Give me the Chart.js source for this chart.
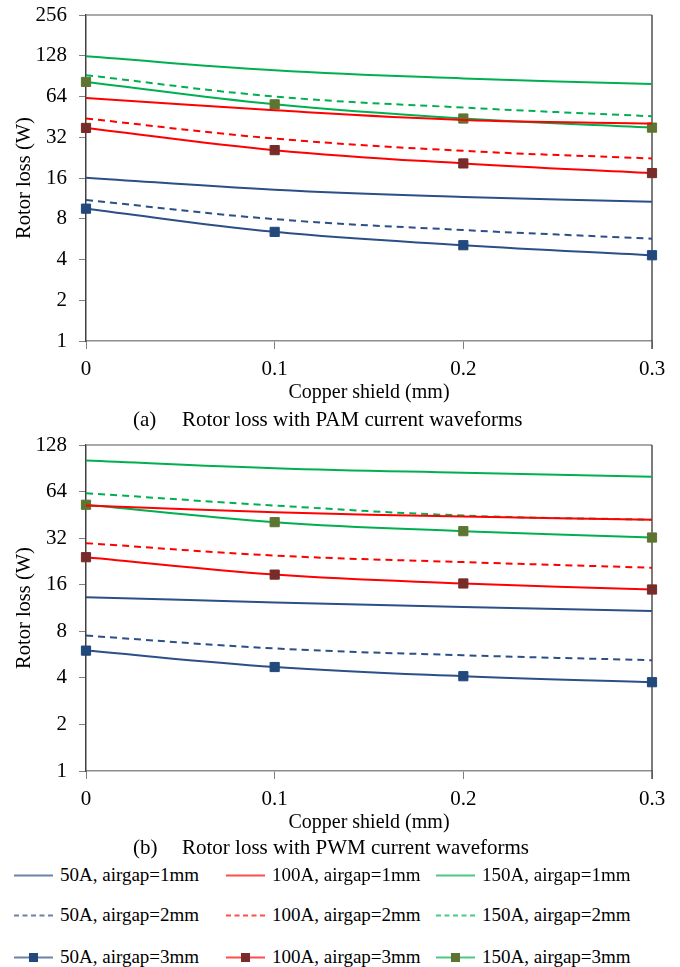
<!DOCTYPE html>
<html>
<head>
<meta charset="utf-8">
<script src="https://cdn.jsdelivr.net/npm/chart.js@4.4.0/dist/chart.umd.min.js"></script>
<style>
  body { margin: 0; background: #fff; width: 680px; height: 967px; position: relative; overflow: hidden;
         font-family: "Liberation Serif", "Times New Roman", serif; color: #000; }
  .box { position: absolute; left: 0; width: 680px; height: 410px; }
  .cap { position: absolute; font-size: 21px; line-height: 21px; white-space: nowrap; }
  .item { position: absolute; height: 24px; display: flex; align-items: center; font-size: 19px; white-space: nowrap; }
  .item svg { margin-right: 7px; }
</style>
</head>
<body>
<div class="box" style="top:0"><canvas id="pam" width="680" height="410"></canvas></div>
<div class="cap" style="left:133px; top:409px">(a)</div>
<div class="cap" style="left:182px; top:409px">Rotor loss with PAM current waveforms</div>
<div class="box" style="top:430px"><canvas id="pwm" width="680" height="410"></canvas></div>
<div class="cap" style="left:133px; top:837px">(b)</div>
<div class="cap" style="left:182px; top:837px">Rotor loss with PWM current waveforms</div>
<div id="legend"></div>

<script>
const FONT = "'Liberation Serif', 'Times New Roman', serif";

// copper shield thickness (mm)
const shield = [0, 0.1, 0.2, 0.3];
const xTicks = [0, 0.1, 0.2, 0.3];
const pamTicks = [1, 2, 4, 8, 16, 32, 64, 128, 256];
const pwmTicks = [1, 2, 4, 8, 16, 32, 64, 128];

const currents = ["50A", "100A", "150A"];
const airgaps = ["1mm", "2mm", "3mm"];

// (a) PAM rotor loss, W
const pam50_1 = [16.1, 13.1, 11.6, 10.7];
const pam50_2 = [11.0, 7.95, 6.6, 5.7];
const pam50_3 = [9.5, 6.4, 5.1, 4.3];
const pam100_1 = [62.4, 50.6, 43.0, 40.4];
const pam100_2 = [44.0, 31.3, 25.4, 22.3];
const pam100_3 = [37.5, 25.7, 20.5, 17.4];
const pam150_1 = [127, 100, 87, 79];
const pam150_2 = [92, 64, 53, 45.7];
const pam150_3 = [82, 56, 44, 37.7];

// (b) PWM rotor loss, W
const pwm50_1 = [13.3, 12.3, 11.5, 10.8];
const pwm50_2 = [7.5, 6.2, 5.6, 5.2];
const pwm50_3 = [6.0, 4.7, 4.1, 3.75];
const pwm100_1 = [52, 47, 44.2, 42.1];
const pwm100_2 = [29.7, 24.7, 22.4, 20.6];
const pwm100_3 = [24.1, 18.6, 16.3, 14.9];
const pwm150_1 = [101.6, 90.6, 84.6, 79.8];
const pwm150_2 = [62.5, 52, 44.8, 42.1];
const pwm150_3 = [52.6, 40.6, 35.5, 32.3];

const pamData = [[pam50_1, pam50_2, pam50_3], [pam100_1, pam100_2, pam100_3], [pam150_1, pam150_2, pam150_3]];
const pwmData = [[pwm50_1, pwm50_2, pwm50_3], [pwm100_1, pwm100_2, pwm100_3], [pwm150_1, pwm150_2, pwm150_3]];

const lineColors = ["#2B4F86", "#FF0000", "#00B050"];
const markColors = ["#23487C", "#772C2A", "#5E7532"];
const dash = [7, 5];

const buildDatasets = (data) => {
  const sets = [];
  currents.forEach((c, i) => {
    airgaps.forEach((g, j) => {
      const marked = j === 2;
      sets.push({
        label: c + ", airgap=" + g,
        data: shield.map((x, k) => ({ x: x, y: data[i][j][k] })),
        borderColor: lineColors[i],
        backgroundColor: markColors[i],
        borderWidth: 2,
        borderDash: j === 1 ? dash : [],
        tension: 0.4,
        pointStyle: "rect",
        pointRadius: marked ? 6.5 : 0,
        pointBorderWidth: 1,
        pointBorderColor: markColors[i],
        pointBackgroundColor: markColors[i],
        clip: false
      });
    });
  });
  return sets;
};

const frame = {
  id: "frame",
  beforeDatasetsDraw(chart) {
    const { ctx, chartArea: a } = chart;
    ctx.save();
    ctx.lineWidth = 1.5;
    ctx.strokeStyle = "#8c8c8c";
    ctx.beginPath();
    ctx.moveTo(a.left, a.top);
    ctx.lineTo(a.right, a.top);
    ctx.stroke();
    ctx.strokeStyle = "#505050";
    ctx.beginPath();
    ctx.moveTo(a.right, a.top);
    ctx.lineTo(a.right, a.bottom + 8);
    ctx.stroke();
    ctx.restore();
  }
};

const initChart = (id, data, yTicks) => {
  const config = {
    type: "line",
    data: { datasets: buildDatasets(data) },
    options: {
      responsive: false,
      animation: false,
      layout: { padding: { top: 15, right: 28, bottom: 0, left: 0 } },
      plugins: { legend: { display: false }, tooltip: { enabled: false } },
      scales: {
        x: {
          type: "linear",
          min: xTicks[0],
          max: xTicks[xTicks.length - 1],
          afterBuildTicks: (s) => { s.ticks = xTicks.map((v) => ({ value: v })); },
          afterFit: (s) => { s.height = 69; s.paddingLeft = 0; s.paddingRight = 0; },
          grid: { drawOnChartArea: false, tickLength: 8, color: "#7f7f7f", lineWidth: 1 },
          border: { color: "#8c8c8c", width: 1.5 },
          ticks: { padding: 8, color: "#000", autoSkip: false, maxRotation: 0,
                   font: { family: FONT, size: 21 }, callback: (v) => String(v) },
          title: { display: true, text: "Copper shield (mm)", color: "#000",
                   font: { family: FONT, size: 20 }, padding: { top: 0, bottom: 5 } }
        },
        y: {
          type: "logarithmic",
          min: yTicks[0],
          max: yTicks[yTicks.length - 1],
          afterBuildTicks: (s) => { s.ticks = yTicks.map((v) => ({ value: v })); },
          afterFit: (s) => { s.width = 86; s.paddingTop = 0; s.paddingBottom = 0; },
          grid: { drawOnChartArea: false, tickLength: 7, color: "#7f7f7f", lineWidth: 1 },
          border: { color: "#404040", width: 1.5 },
          ticks: { padding: 12, color: "#000", autoSkip: false,
                   font: { family: FONT, size: 21 }, callback: (v) => String(v) },
          title: { display: true, text: "Rotor loss (W)", color: "#000",
                   font: { family: FONT, size: 20.5 }, padding: { top: 12, bottom: 0 } }
        }
      }
    },
    plugins: [frame]
  };
  return new Chart(document.getElementById(id), config);
};

const pamChart = initChart("pam", pamData, pamTicks);
initChart("pwm", pwmData, pwmTicks);

// legend, 3 columns (current) x 3 rows (airgap)
const colX = [14, 226, 436];
const rowY = [863, 903, 945];
const legend = document.getElementById("legend");
pamChart.data.datasets.forEach((ds, n) => {
  const i = Math.floor(n / 3), j = n % 3;
  const item = document.createElement("div");
  item.className = "item";
  item.style.left = colX[i] + "px";
  item.style.top = rowY[j] + "px";
  const mark = j === 2 ? '<rect x="15" y="1" width="9" height="9" fill="' + markColors[i] + '"/>' : "";
  item.innerHTML =
    '<svg width="39" height="11"><line x1="0" y1="5.5" x2="39" y2="5.5" stroke="' + lineColors[i] +
    '" stroke-opacity="0.7" stroke-width="2"' + (j === 1 ? ' stroke-dasharray="5,3.5"' : "") + '/>' + mark + '</svg>' +
    '<span>' + ds.label + '</span>';
  legend.appendChild(item);
});
</script>
</body>
</html>
